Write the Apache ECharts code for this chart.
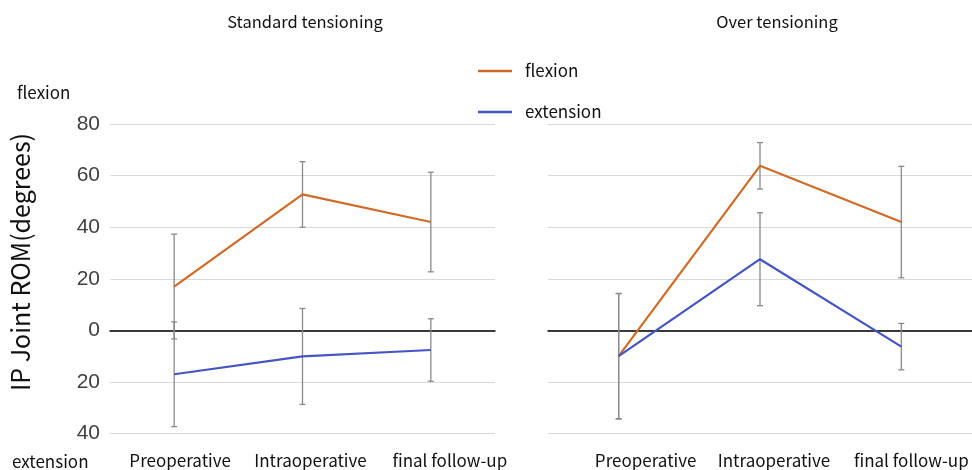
<!DOCTYPE html>
<html>
<head>
<meta charset="utf-8">
<script src="https://cdn.jsdelivr.net/npm/echarts@6/dist/echarts.min.js"></script>
<style>
  html, body { margin: 0; padding: 0; background: #fff; }
  #chart { width: 972px; height: 470px; }
</style>
</head>
<body>
<div id="chart"></div>
<script>
// Time points shared by both panels
const stages = ['Preoperative', 'Intraoperative', 'final follow-up'];
const panelTitles = ['Standard tensioning', 'Over tensioning'];
const yTicks = [-40, -20, 0, 20, 40, 60, 80];

// Standard tensioning: mean and SD (degrees; extension lag is negative)
const stdFlexMean = [17, 52.7, 42];
const stdFlexSD = [20.3, 12.7, 19.3];
const stdExtMean = [-17, -10.1, -7.6];
const stdExtSD = [20.3, 18.6, 12.1];

// Over tensioning: mean and SD
const overFlexMean = [-10, 63.8, 42];
const overFlexSD = [24.3, 9, 21.6];
const overExtMean = [-10, 27.6, -6.3];
const overExtSD = [24.3, 18, 9];

const FLEX_COLOR = '#D06B27';
const EXT_COLOR = '#4655C4';
const FONT = '"Noto Sans CJK JP", "Noto Sans", sans-serif';

// Horizontal nudge (px) of each category label, per panel
const labelNudge = [[6, 8, 19], [27, 14, 10]];

const chart = echarts.init(document.getElementById('chart'), null, { renderer: 'canvas' });

function errorData(means, sds) {
  return means.map((m, i) => [i, m - sds[i], m + sds[i]]);
}

function errorSeries(gridIdx, means, sds) {
  return {
    type: 'custom',
    xAxisIndex: gridIdx,
    yAxisIndex: gridIdx,
    z: 1,
    silent: true,
    data: errorData(means, sds),
    renderItem: function (params, api) {
      const x = api.value(0);
      const lo = api.coord([x, api.value(1)]);
      const hi = api.coord([x, api.value(2)]);
      const cap = 3;
      const style = { stroke: '#8a8a8a', lineWidth: 1.3 };
      return {
        type: 'group',
        children: [
          { type: 'line', shape: { x1: lo[0], y1: lo[1], x2: hi[0], y2: hi[1] }, style: style },
          { type: 'line', shape: { x1: lo[0] - cap, y1: lo[1], x2: lo[0] + cap, y2: lo[1] }, style: style },
          { type: 'line', shape: { x1: hi[0] - cap, y1: hi[1], x2: hi[0] + cap, y2: hi[1] }, style: style }
        ]
      };
    }
  };
}

function lineSeries(name, gridIdx, values, color) {
  return {
    name: name,
    type: 'line',
    xAxisIndex: gridIdx,
    yAxisIndex: gridIdx,
    data: values,
    symbol: 'none',
    z: 3,
    lineStyle: { color: color, width: 2.2 },
    itemStyle: { color: color }
  };
}

const grids = [
  { left: 110, top: 124, width: 385, height: 309.6 },
  { left: 548, top: 124, width: 432, height: 309.6 }
];

const xAxes = grids.map((g, i) => {
  const rich = {};
  labelNudge[i].forEach((d, k) => {
    rich['c' + k] = { fontSize: 17, color: '#111', fontFamily: FONT, padding: [0, 0, 0, 2 * d] };
  });
  return {
    type: 'category',
    gridIndex: i,
    data: stages,
    boundaryGap: true,
    axisLine: { onZero: true, lineStyle: { color: '#000', width: 1.5 } },
    axisTick: { show: false },
    axisLabel: {
      interval: 0,
      margin: 0,
      padding: [18, 0, 0, 0],
      color: '#111',
      fontSize: 17,
      fontFamily: FONT,
      formatter: (v, idx) => '{c' + idx + '|' + v + '}',
      rich: rich
    },
    position: 'bottom'
  };
});

const yAxes = grids.map((g, i) => ({
  type: 'value',
  gridIndex: i,
  min: yTicks[0],
  max: yTicks[yTicks.length - 1],
  interval: 20,
  axisLine: { show: false },
  axisTick: { show: false },
  splitLine: { lineStyle: { color: '#d9d9d9', width: 1 } },
  axisLabel: {
    show: i === 0,
    margin: 10,
    color: '#404040',
    fontSize: 21,
    fontFamily: '"Liberation Sans Narrow", "Liberation Sans", sans-serif',
    formatter: v => String(Math.abs(v))
  }
}));

chart.setOption({
  backgroundColor: '#fff',
  animation: false,
  title: [
    { text: panelTitles[0], left: 300, top: 8, textAlign: 'center',
      textStyle: { fontSize: 16.5, fontWeight: 'normal', color: '#111', fontFamily: FONT } },
    { text: panelTitles[1], left: 772, top: 8, textAlign: 'center',
      textStyle: { fontSize: 16.5, fontWeight: 'normal', color: '#111', fontFamily: FONT } }
  ],
  legend: {
    orient: 'vertical',
    left: 473,
    top: 55,
    icon: 'rect',
    itemWidth: 34,
    itemHeight: 2.5,
    itemGap: 19,
    data: ['flexion', 'extension'],
    textStyle: { fontSize: 17, lineHeight: 22, color: '#111', fontFamily: FONT, padding: [0, 0, 0, 8] }
  },
  grid: grids,
  xAxis: xAxes,
  yAxis: yAxes,
  graphic: [
    { type: 'text', left: 17, top: 84,
      style: { text: 'flexion', fontSize: 17, fill: '#111', fontFamily: FONT } },
    { type: 'text', left: 12, top: 453,
      style: { text: 'extension', fontSize: 17, fill: '#111', fontFamily: FONT } },
    { type: 'text', x: 20, y: 262, rotation: Math.PI / 2,
      style: { text: 'IP Joint ROM(degrees)', fontSize: 25, fill: '#111', fontFamily: FONT,
               align: 'center', verticalAlign: 'middle' } }
  ],
  series: [
    errorSeries(0, stdFlexMean, stdFlexSD),
    errorSeries(0, stdExtMean, stdExtSD),
    lineSeries('flexion', 0, stdFlexMean, FLEX_COLOR),
    lineSeries('extension', 0, stdExtMean, EXT_COLOR),
    errorSeries(1, overFlexMean, overFlexSD),
    errorSeries(1, overExtMean, overExtSD),
    lineSeries('flexion', 1, overFlexMean, FLEX_COLOR),
    lineSeries('extension', 1, overExtMean, EXT_COLOR)
  ]
});
</script>
</body>
</html>
